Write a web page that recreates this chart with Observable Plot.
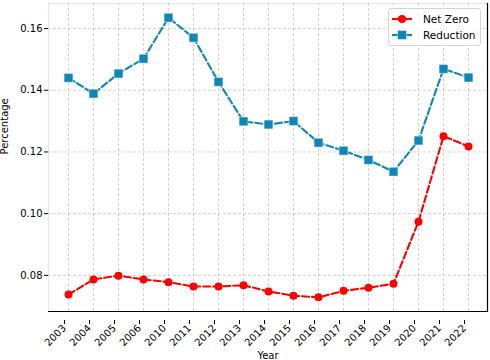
<!DOCTYPE html>
<html>
<head>
<meta charset="utf-8">
<script src="https://cdn.jsdelivr.net/npm/d3@7"></script>
<script src="https://cdn.jsdelivr.net/npm/@observablehq/plot@0.6"></script>
<style>
  html, body { margin: 0; padding: 0; background: white; }
  #wrap { position: relative; width: 490px; height: 360px; font-family: "DejaVu Sans", sans-serif; }
  #legend { position: absolute; left: 388px; top: 8px; width: 93px; height: 38px; box-sizing: border-box;
    border: 1px solid #d4d4d4; border-radius: 3px; background: rgba(255,255,255,0.85); font-size: 10.5px; }
  .entry { position: absolute; left: 2px; height: 16px; display: flex; align-items: center; }
  .entry svg { margin-right: 10px; }
</style>
</head>
<body>
<div id="wrap"><div id="legend"></div></div>
<script>
const years = ["2003","2004","2005","2006","2010","2011","2012","2013","2014","2015","2016","2017","2018","2019","2020","2021","2022"];
const netZero = [0.0738,0.0787,0.0799,0.0787,0.0778,0.0764,0.0764,0.0768,0.0748,0.0734,0.0729,0.0750,0.0760,0.0773,0.0974,0.1251,0.1218];
const reduction = [0.1440,0.1389,0.1454,0.1502,0.1635,0.1570,0.1427,0.1299,0.1289,0.1300,0.1230,0.1204,0.1174,0.1136,0.1237,0.1469,0.1441];
const seriesNames = ["Net Zero","Reduction"];
const seriesColors = ["#ff0000","#0e87b4"];
const seriesSymbols = ["circle","square"];
const yTicks = [0.08,0.10,0.12,0.14,0.16];
const yDomain = [0.0683,0.1681];

const rows = [];
years.forEach((y,i) => rows.push({year:y, value:netZero[i], series:seriesNames[0]}));
years.forEach((y,i) => rows.push({year:y, value:reduction[i], series:seriesNames[1]}));

const grid = {stroke:"#b0b0b0", strokeOpacity:0.7, strokeWidth:0.8, strokeDasharray:"3,2"};

const chart = Plot.plot({
  width: 490, height: 360,
  marginLeft: 48, marginRight: 3, marginTop: 3, marginBottom: 49,
  style: {fontFamily: "DejaVu Sans, sans-serif", fontSize: "10px", background: "white", color: "black"},
  x: {type: "point", domain: years, padding: 0.78},
  y: {domain: yDomain},
  color: {domain: seriesNames, range: seriesColors},
  marks: [
    Plot.frame({stroke: "#e6e6e6", strokeWidth: 1.2}),
    Plot.gridX(years, grid),
    Plot.gridY(yTicks, grid),
    Plot.ruleY([yDomain[0]], {stroke: "black", strokeWidth: 1.2}),
    Plot.frame({anchor: "right", stroke: "black", strokeWidth: 1.2}),
    Plot.line(rows, {x: "year", y: "value", z: "series", stroke: "series", strokeWidth: 2.1, strokeDasharray: "7,3"}),
    Plot.dot(rows.filter(d => d.series === seriesNames[0]), {x: "year", y: "value", r: 4, symbol: "circle", fill: seriesColors[0]}),
    Plot.dot(rows.filter(d => d.series === seriesNames[1]), {x: "year", y: "value", r: 5, symbol: "square", fill: seriesColors[1], stroke: "white", strokeWidth: 0.7, strokeOpacity: 0.7}),
    Plot.axisY({ticks: yTicks, tickFormat: d3.format(".2f"), tickSize: 4, tickPadding: 2, label: null, fontSize: 10}),
    Plot.axisX({tickRotate: -45, tickSize: 4, tickPadding: 2, label: null, fontSize: 10, dx: -4, dy: 9}),
    Plot.text(["Percentage"], {frameAnchor: "left", rotate: -90, dx: -44, dy: -3, fontSize: 10}),
    Plot.text(["Year"], {frameAnchor: "bottom", dy: 47, fontSize: 10})
  ]
});
document.getElementById("wrap").prepend(chart);

const legend = document.getElementById("legend");
seriesNames.forEach((name, i) => {
  const e = document.createElement("div");
  e.className = "entry";
  e.style.top = (2 + i * 16) + "px";
  const marker = seriesSymbols[i] === "circle"
    ? `<circle cx="11" cy="6" r="4" fill="${seriesColors[i]}"/>`
    : `<rect x="6.5" y="1.5" width="9" height="9" fill="${seriesColors[i]}" stroke="white" stroke-width="0.7" stroke-opacity="0.7"/>`;
  e.innerHTML = `<svg width="22" height="12"><line x1="1" x2="21" y1="6" y2="6" stroke="${seriesColors[i]}" stroke-width="2.2"/>${marker}</svg><span>${name}</span>`;
  legend.appendChild(e);
});
</script>
</body>
</html>
